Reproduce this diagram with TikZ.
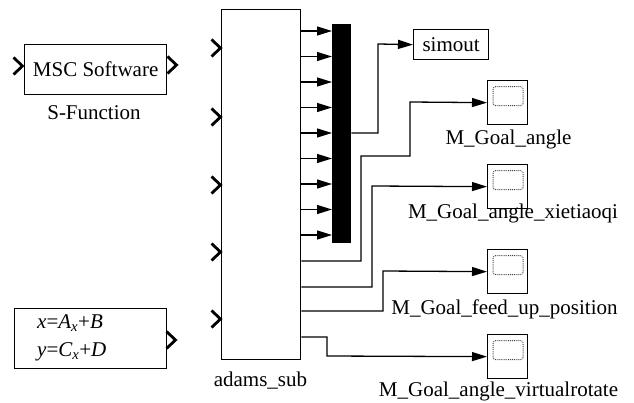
\documentclass[tikz,border=0pt]{standalone}
\usepackage{fontspec}
\setmainfont{Liberation Serif}
\usetikzlibrary{arrows.meta}
\begin{document}
\begin{tikzpicture}[x=1pt,y=-1pt,
  blk/.style={draw, line width=1.3pt, anchor=north west, inner sep=0pt},
  wire/.style={line width=1.3pt},
  arr/.style={wire, -{Triangle[length=15pt,width=9pt]}},
  chev/.style={line width=2.8pt, line join=miter},
  txt/.style={font=\fontsize{21}{25}\selectfont},
  lbl/.style={txt, anchor=base, inner sep=0pt},
  scopeblk/.style={blk, minimum width=40pt, minimum height=44pt,
    path picture={\draw[black!75, line width=0.9pt, densely dotted, rounded corners=2.5pt]
      ([xshift=5.5pt,yshift=-6pt]path picture bounding box.north west) rectangle ++(30pt,-19pt);}}]
\useasboundingbox (0,0) rectangle (634,403);

% input/output port marks
\newcommand\portmark[2]{\draw[chev] (#1,#2) ++(-4.5,-8.5) -- ++(9,8.5) -- ++(-9,8.5);}

% S-Function block
\node[blk, txt, minimum width=142pt, minimum height=50pt] (msc) at (24,44) {MSC Software};
\node[lbl] (mscname) at (94,119.3) {S-Function};
\portmark{18}{66}
\portmark{172}{65}

% expression block
\node[blk, minimum width=152pt, minimum height=60pt] (expr) at (14,308) {};
\node[lbl, anchor=base west] (exprA) at (37,328.3) {\itshape x\upshape=\itshape A\textsubscript{\itshape x}\upshape+\itshape B};
\node[lbl, anchor=base west] (exprC) at (37,356.7) {\itshape y\upshape=\itshape C\textsubscript{\itshape x}\upshape+\itshape D};
\portmark{171}{340}

% adams subsystem
\node[blk, minimum width=79pt, minimum height=350pt] (adams) at (221,9) {};
\node[lbl] (adamsname) at (260.5,386.7) {adams\_sub};
\foreach \yy in {48,117,185,252,319} {\portmark{216}{\yy}}

% mux bar
\node[blk, fill=black, minimum width=18pt, minimum height=218pt] (mux) at (332,24) {};
\foreach \yy in {31,56.5,82,107.5,133,158.5,184,209.5,235}
  \draw[arr] (adams.east |- 0,\yy) -- (mux.west |- 0,\yy);

% sinks
\node[blk, txt, minimum width=75pt, minimum height=30pt] (simout) at (413,29) {simout};
\node[scopeblk] (sc1) at (487,80) {};
\node[scopeblk] (sc2) at (487,164) {};
\node[scopeblk] (sc3) at (487,249) {};
\node[scopeblk] (sc4) at (487,334) {};
\node[lbl] (sc1name) at (508.5,145) {M\_Goal\_angle};
\node[lbl] (sc2name) at (513,219) {M\_Goal\_angle\_xietiaoqi};
\node[lbl] (sc3name) at (504.5,314) {M\_Goal\_feed\_up\_position};
\node[lbl] (sc4name) at (498.5,396.7) {M\_Goal\_angle\_virtualrotate};

% signal lines
\draw[arr] (mux.east |- 0,133) -| (378,44) -- (simout.west);
\draw[arr] (adams.east |- 0,261) -| (361,156) -| (410,102) -- (sc1.west);
\draw[arr] (adams.east |- 0,287) -| (372,186) -- (sc2.west);
\draw[arr] (adams.east |- 0,311) -| (383,271) -- (sc3.west);
\draw[arr] (adams.east |- 0,337) -| (327,356) -- (sc4.west);
\end{tikzpicture}
\end{document}
